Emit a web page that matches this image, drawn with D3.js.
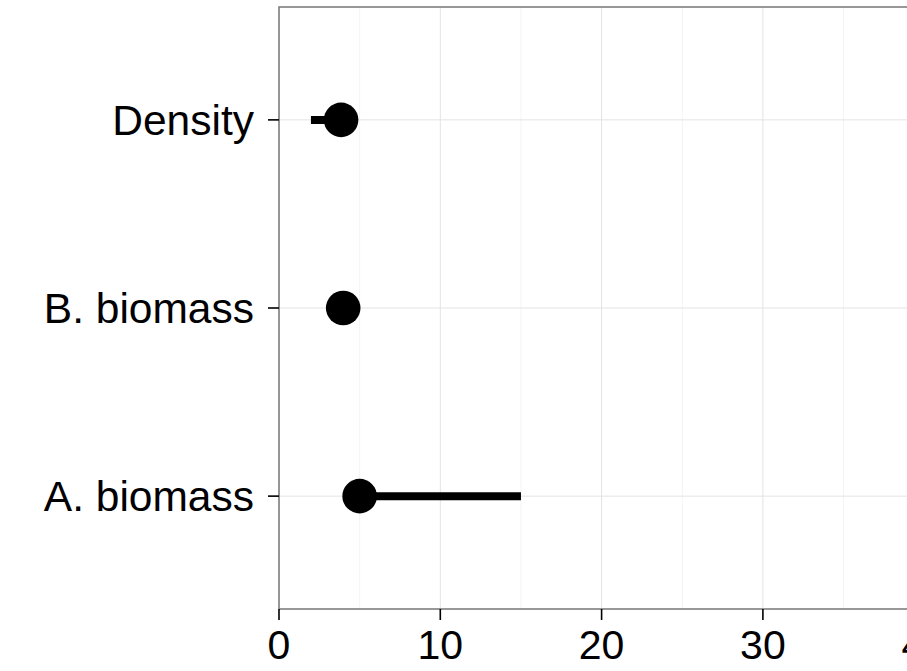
<!DOCTYPE html>
<html>
<head>
<meta charset="utf-8">
<script src="https://cdn.jsdelivr.net/npm/d3@7"></script>
<style>
  html, body { margin: 0; padding: 0; background: #fff; }
  svg { display: block; }
  text { font-family: "Liberation Sans", Arial, Helvetica, sans-serif; fill: #000; }
</style>
</head>
<body>
<svg id="chart" width="907" height="671"></svg>
<script>
// ---- data ----
const categories = ["Density", "B. biomass", "A. biomass"];
const estimates  = [3.85, 3.98, 5.0];
const lower      = [1.98, 3.3, 4.2];
const upper      = [4.7, 4.6, 15.0];
const xTicks     = [0, 10, 20, 30, 40];
const xMinor     = [5, 15, 25, 35];

const svg = d3.select("#chart");
const W = 907, H = 671;

const panel = { left: 279, top: 7, right: 960, bottom: 609 };

const x = d3.scaleLinear().domain([0, 42.2]).range([panel.left, panel.left + 42.2 * 16.13]);
const y = d3.scalePoint().domain(categories).range([panel.top, panel.bottom]).padding(0.6);

svg.append("rect").attr("width", W).attr("height", H).attr("fill", "#fff");

const gp = svg.append("g");
// minor grid
gp.selectAll("line.minor").data(xMinor).enter().append("line")
  .attr("x1", d => x(d)).attr("x2", d => x(d))
  .attr("y1", panel.top).attr("y2", panel.bottom)
  .attr("stroke", "#f4f4f4").attr("stroke-width", 1);
// major grid
gp.selectAll("line.vmaj").data(xTicks).enter().append("line")
  .attr("x1", d => x(d)).attr("x2", d => x(d))
  .attr("y1", panel.top).attr("y2", panel.bottom)
  .attr("stroke", "#e3e3e3").attr("stroke-width", 1);
gp.selectAll("line.hmaj").data(categories).enter().append("line")
  .attr("x1", panel.left).attr("x2", panel.right)
  .attr("y1", d => y(d)).attr("y2", d => y(d))
  .attr("stroke", "#e3e3e3").attr("stroke-width", 1);

// error bars
const rows = categories.map((c, i) => ({ c, est: estimates[i], lo: lower[i], hi: upper[i] }));
svg.selectAll("line.err").data(rows).enter().append("line")
  .attr("x1", d => x(d.lo)).attr("x2", d => x(d.hi))
  .attr("y1", d => y(d.c)).attr("y2", d => y(d.c))
  .attr("stroke", "#000").attr("stroke-width", 8);

// points
svg.selectAll("circle.pt").data(rows).enter().append("circle")
  .attr("cx", d => x(d.est)).attr("cy", d => y(d.c)).attr("r", 17.3)
  .attr("fill", "#000");

// panel border
svg.append("rect")
  .attr("x", panel.left).attr("y", panel.top)
  .attr("width", panel.right - panel.left).attr("height", panel.bottom - panel.top)
  .attr("fill", "none").attr("stroke", "#7f7f7f").attr("stroke-width", 1.6);

// x axis ticks & labels
const xa = svg.append("g");
xa.selectAll("line").data(xTicks).enter().append("line")
  .attr("x1", d => x(d)).attr("x2", d => x(d))
  .attr("y1", panel.bottom).attr("y2", panel.bottom + 11)
  .attr("stroke", "#000").attr("stroke-width", 1.6);
xa.selectAll("text").data(xTicks).enter().append("text")
  .attr("x", d => x(d)).attr("y", 659)
  .attr("text-anchor", "middle").attr("font-size", 41)
  .text(d => d);

// y axis ticks & labels
const ya = svg.append("g");
ya.selectAll("line").data(categories).enter().append("line")
  .attr("x1", panel.left - 11).attr("x2", panel.left)
  .attr("y1", d => y(d)).attr("y2", d => y(d))
  .attr("stroke", "#000").attr("stroke-width", 1.6);
ya.selectAll("text").data(categories).enter().append("text")
  .attr("x", 254).attr("y", d => y(d))
  .attr("dy", "0.35em")
  .attr("text-anchor", "end").attr("font-size", 42.5)
  .text(d => d);
</script>
</body>
</html>
